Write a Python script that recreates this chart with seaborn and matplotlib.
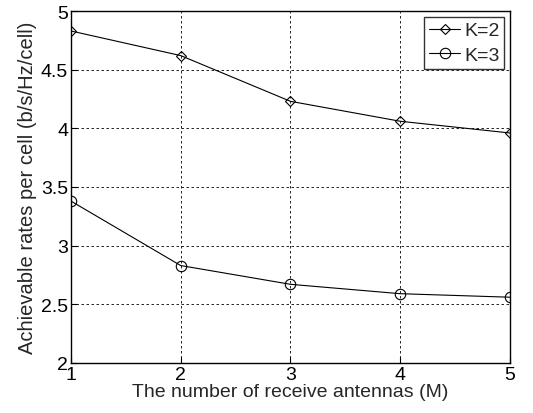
import matplotlib
matplotlib.use("Agg")
import matplotlib.pyplot as plt
import seaborn as sns
import pandas as pd

# data
antennas = [1, 2, 3, 4, 5]
rate_k2 = [4.83, 4.62, 4.23, 4.06, 3.96]
rate_k3 = [3.38, 2.83, 2.67, 2.59, 2.56]
series = ["K=2", "K=3"]

df = pd.DataFrame({
    "M": antennas * 2,
    "rate": rate_k2 + rate_k3,
    "K": [series[0]] * 5 + [series[1]] * 5,
})

sns.set_style("ticks")
plt.rcParams["font.family"] = ["Liberation Sans", "DejaVu Sans"]

fig = plt.figure(figsize=(5.33, 4.14), dpi=100)
ax = fig.add_axes([0.133, 0.121, 0.824, 0.850])

sns.lineplot(data=df, x="M", y="rate", style="K", markers={"K=2": "D", "K=3": "o"},
             dashes=False, color="black", linewidth=0.8, markersize=7.5,
             markerfacecolor="none", markeredgecolor="black", markeredgewidth=0.8,
             ax=ax)
# diamond a bit smaller than circle
for ln in ax.lines:
    if ln.get_marker() == "D":
        ln.set_markersize(5.5)

ax.set_xlim(1, 5)
ax.set_ylim(2, 5)
ax.set_xticks(antennas)
ax.set_yticks([2, 2.5, 3, 3.5, 4, 4.5, 5])
ax.set_yticklabels(["2", "2.5", "3", "3.5", "4", "4.5", "5"])
ax.grid(True, color="black", linestyle=(0, (3, 3)), linewidth=0.6)
ax.tick_params(direction="in", labelsize=14, length=4, color="black", labelcolor="black", pad=2)
for s in ax.spines.values():
    s.set_color("black")
    s.set_linewidth(1.0)

ax.set_xlabel("The number of receive antennas (M)", fontsize=14, labelpad=0)
ax.set_ylabel("Achievable rates per cell (b/s/Hz/cell)", fontsize=14.5, labelpad=3)

leg = ax.legend(loc="upper right", fontsize=14, frameon=True, fancybox=False,
                edgecolor="black", handlelength=1.6, handletextpad=0.2,
                borderaxespad=0.3, labelspacing=0.35, borderpad=0.25)
leg.get_frame().set_linewidth(1.0)
leg.set_title(None)

fig.savefig("out.png", dpi=100)
